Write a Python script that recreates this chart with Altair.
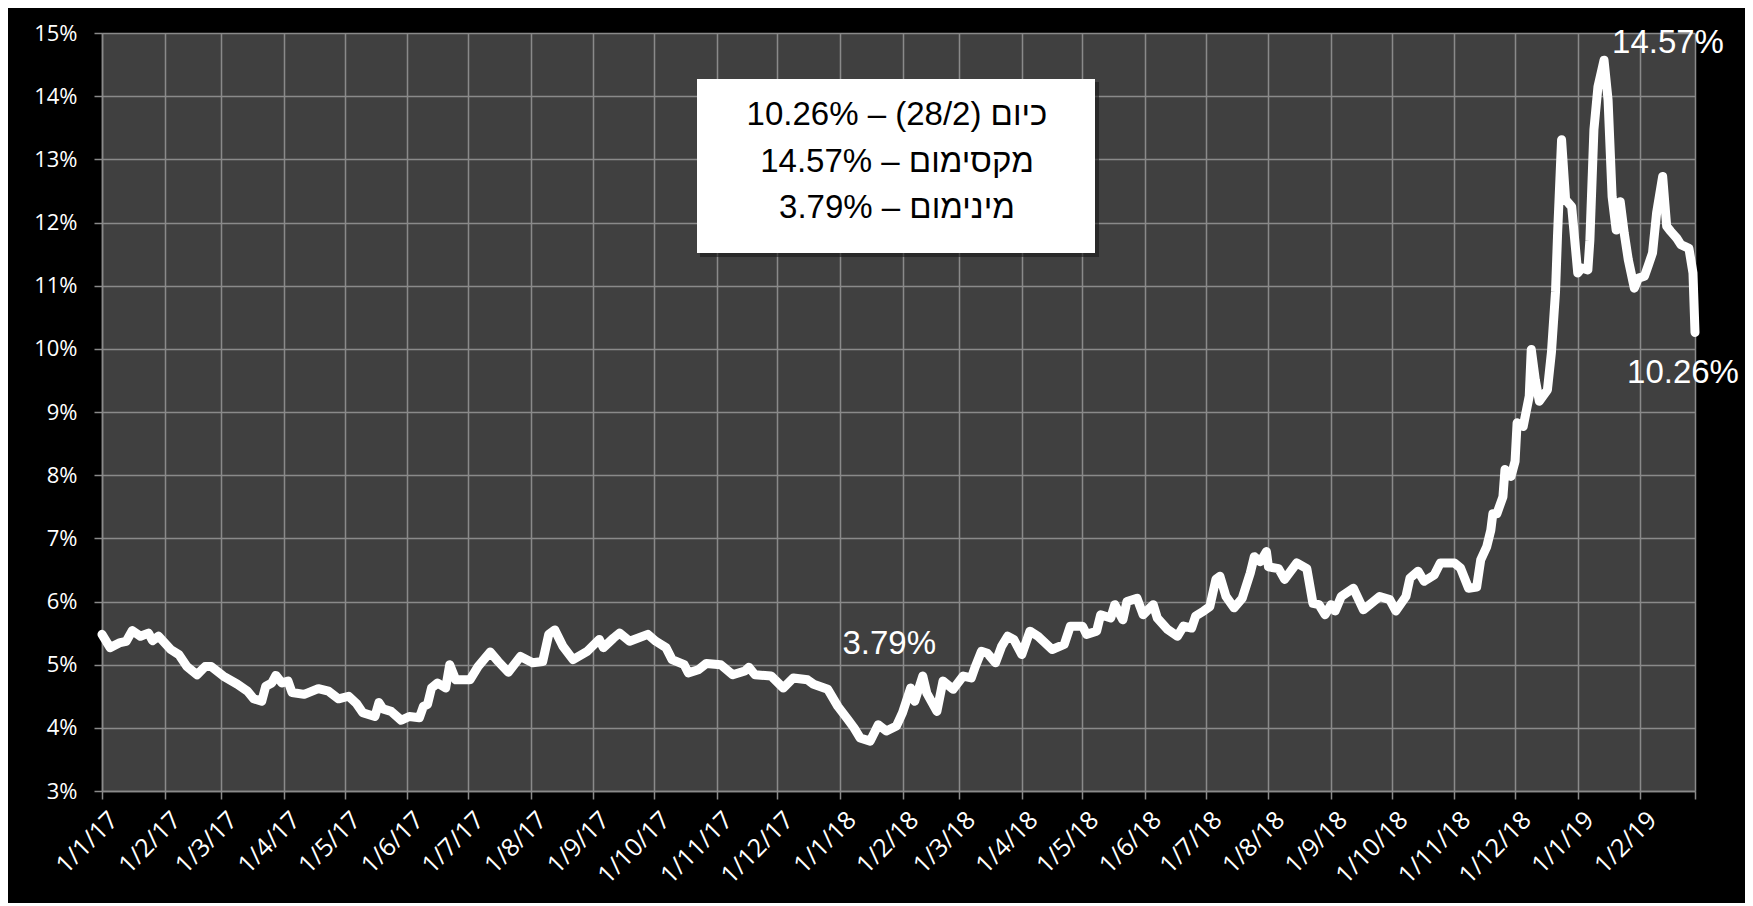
import altair as alt
import pandas as pd

START = "2017-01-01"
END = "2019-02-28"

# day offsets from 1/1/17 and the rate (%)
DAYS = [0, 4, 9, 12, 15, 19, 23, 25, 28, 34, 38, 42, 47, 51, 54, 60, 67, 72, 75, 79,
        81, 84, 86, 89, 92, 94, 100, 107, 112, 117, 122, 126, 129, 135, 137, 139, 143, 148, 152, 157,
        159, 161, 163, 166, 170, 172, 175, 182, 186, 192, 196, 201, 207, 213, 218, 221, 224, 228, 233, 240,
        246, 248, 253, 256, 261, 270, 274, 279, 282, 288, 290, 295, 299, 306, 312, 318, 320, 323, 331, 337,
        342, 349, 352, 359, 364, 369, 372, 375, 380, 384, 388, 393, 396, 400, 402, 406, 408, 413, 416, 421,
        426, 430, 432, 435, 438, 442, 445, 448, 451, 455, 459, 463, 470, 476, 479, 485, 487, 492, 494, 499,
        501, 505, 507, 512, 515, 520, 522, 527, 532, 535, 539, 541, 545, 548, 551, 553, 556, 560, 564, 568,
        570, 573, 576, 577, 582, 585, 591, 596, 599, 602, 605, 608, 610, 613, 619, 624, 632, 637, 640, 645,
        647, 651, 654, 659, 662, 669, 672, 676, 680, 682, 685, 687, 688, 690, 693, 694, 697, 699, 700, 703,
        706, 707, 709, 711, 715, 717, 719, 720, 722, 724, 727, 730, 732, 735, 736, 738, 740, 743, 745, 747,
        749, 751, 753, 755, 758, 760, 763, 765, 767, 769, 772, 774, 776, 779, 781, 785, 787, 788]

RATE = [5.48, 5.27, 5.35, 5.37, 5.54, 5.45, 5.50, 5.38, 5.45, 5.24, 5.16, 4.97, 4.84, 4.97, 4.97, 4.82, 4.69, 4.58, 4.46, 4.42,
        4.66, 4.71, 4.83, 4.71, 4.74, 4.56, 4.53, 4.62, 4.58, 4.46, 4.50, 4.38, 4.24, 4.18, 4.40, 4.30, 4.26, 4.12, 4.18, 4.16,
        4.34, 4.37, 4.63, 4.71, 4.63, 5.00, 4.76, 4.76, 4.97, 5.20, 5.05, 4.88, 5.13, 5.03, 5.05, 5.48, 5.55, 5.29, 5.08, 5.21,
        5.40, 5.27, 5.42, 5.50, 5.37, 5.48, 5.37, 5.27, 5.08, 5.00, 4.87, 4.92, 5.02, 5.00, 4.84, 4.90, 4.96, 4.84, 4.82, 4.63,
        4.79, 4.76, 4.69, 4.61, 4.34, 4.13, 4.00, 3.84, 3.79, 4.05, 3.95, 4.03, 4.24, 4.63, 4.42, 4.82, 4.55, 4.26, 4.74, 4.61,
        4.82, 4.79, 4.97, 5.21, 5.18, 5.03, 5.29, 5.45, 5.40, 5.16, 5.53, 5.45, 5.24, 5.32, 5.61, 5.61, 5.48, 5.53, 5.79, 5.74,
        5.95, 5.71, 6.00, 6.05, 5.79, 5.95, 5.74, 5.56, 5.45, 5.61, 5.58, 5.77, 5.85, 5.92, 6.35, 6.40, 6.08, 5.90, 6.05, 6.45,
        6.71, 6.63, 6.79, 6.55, 6.52, 6.35, 6.61, 6.52, 5.97, 5.95, 5.79, 5.95, 5.85, 6.08, 6.21, 5.87, 6.08, 6.03, 5.85, 6.08,
        6.37, 6.48, 6.32, 6.42, 6.61, 6.61, 6.53, 6.21, 6.23, 6.66, 6.87, 7.13, 7.39, 7.39, 7.66, 8.09, 7.98, 8.22, 8.83, 8.77,
        9.25, 9.99, 9.51, 9.17, 9.35, 9.95, 10.90, 11.80, 13.31, 12.36, 12.25, 11.20, 11.28, 11.25, 11.72, 13.47, 14.15, 14.57, 13.94, 12.41,
        11.88, 12.33, 11.83, 11.41, 10.96, 11.12, 11.15, 11.33, 11.52, 12.15, 12.73, 11.94, 11.86, 11.75, 11.65, 11.59, 11.20, 10.26]

MONTH_TICKS = ["2017-01-01", "2017-02-01", "2017-03-01", "2017-04-01", "2017-05-01", "2017-06-01",
               "2017-07-01", "2017-08-01", "2017-09-01", "2017-10-01", "2017-11-01", "2017-12-01",
               "2018-01-01", "2018-02-01", "2018-03-01", "2018-04-01", "2018-05-01", "2018-06-01",
               "2018-07-01", "2018-08-01", "2018-09-01", "2018-10-01", "2018-11-01", "2018-12-01",
               "2019-01-01", "2019-02-01"]
Y_TICKS = [3, 4, 5, 6, 7, 8, 9, 10, 11, 12, 13, 14, 15]

LRM = "\u200e"
BOX_LINES = [
    LRM + "10.26% – " + LRM + "(28/2)" + LRM + " כיום",
    LRM + "14.57% – מקסימום",
    LRM + "3.79% – מינימום",
]

assert len(DAYS) == len(RATE)

df = pd.DataFrame({
    "date": pd.Timestamp(START) + pd.to_timedelta(DAYS, unit="D"),
    "rate": RATE,
})


def dt(s):
    t = pd.Timestamp(s)
    return alt.DateTime(year=t.year, month=t.month, date=t.day)


GRID = "#8a8a8a"
LABEL_FONT = "Open Sans"
ANN_FONT = "Liberation Sans"

x_enc = alt.X(
    "date:T",
    scale=alt.Scale(domain=[dt(START), dt(END)], nice=False),
    axis=alt.Axis(
        values=[dt(m) for m in MONTH_TICKS + [END]],
        labelExpr="month(datum.value) == 1 && date(datum.value) == 28 ? '' : timeFormat(datum.value, '%-d/%-m/%y')",
        labelAngle=315, labelAlign="right", labelBaseline="top",
        labelFont=LABEL_FONT, labelFontSize=25, labelColor="white",
        labelPadding=8, labelOffset=3, labelOverlap=False, labelFlush=False,
        grid=True, gridColor=GRID, gridWidth=1.5,
        tickColor=GRID, tickSize=8, tickWidth=1.5,
        domainColor=GRID, domainWidth=1.5,
        title=None,
    ),
)
y_enc = alt.Y(
    "rate:Q",
    scale=alt.Scale(domain=[3, 15], nice=False, zero=False),
    axis=alt.Axis(
        values=Y_TICKS,
        labelExpr="datum.value + '%'",
        labelFont=LABEL_FONT, labelFontSize=22, labelColor="white",
        labelPadding=17,
        grid=True, gridColor=GRID, gridWidth=1.5,
        tickColor=GRID, tickSize=8, tickWidth=1.5,
        domainColor=GRID, domainWidth=1.5,
        title=None,
    ),
)

line = alt.Chart(df).mark_line(
    color="white", strokeWidth=9, strokeJoin="round", strokeCap="round"
).encode(x=x_enc, y=y_enc)

i_max = df["rate"].idxmax()
i_min = df["rate"].idxmin()
i_last = len(df) - 1


def point_label(i, dx, dy, align):
    sub = df.iloc[[i]].copy()
    sub["label"] = sub["rate"].map(lambda v: f"{v:.2f}%")
    return alt.Chart(sub).mark_text(
        font=ANN_FONT, fontSize=33, color="white", align=align, baseline="middle",
        dx=dx, dy=dy,
    ).encode(x="date:T", y="rate:Q", text="label:N")


lab_max = point_label(i_max, 8, -17, "left")
lab_last = point_label(i_last, -12, 41, "center")
lab_min = point_label(i_min, 19, -97, "center")

one = pd.DataFrame({"k": [0]})
shadow = alt.Chart(one).mark_rect(color="#1a1a1a", opacity=0.6).encode(
    x=alt.value(598), x2=alt.value(997), y=alt.value(49), y2=alt.value(224)
)
box = alt.Chart(one).mark_rect(color="white").encode(
    x=alt.value(595), x2=alt.value(993), y=alt.value(46), y2=alt.value(220)
)

box_texts = []
for txt, yy in zip(BOX_LINES, [92, 139, 185]):
    box_texts.append(
        alt.Chart(pd.DataFrame({"t": [txt]})).mark_text(
            font=ANN_FONT, fontSize=33, color="black", align="center", baseline="alphabetic"
        ).encode(x=alt.value(795), y=alt.value(yy), text="t:N")
    )

chart = alt.layer(line, lab_max, lab_last, lab_min, shadow, box, *box_texts).properties(
    width=1593,
    height=758,
    autosize=alt.AutoSizeParams(type="none"),
    padding={"left": 94, "top": 25, "right": 50, "bottom": 112},
    background="black",
).configure_view(fill="#404040", strokeWidth=0)

chart.save("out.html", embed_options={"renderer": "svg", "actions": False})
